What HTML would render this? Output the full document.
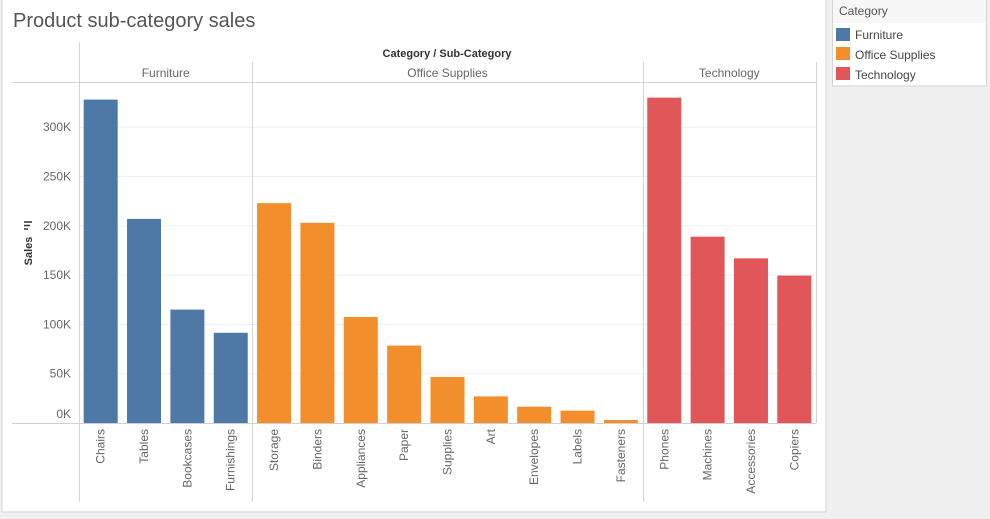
<!DOCTYPE html>
<html><head><meta charset="utf-8"><style>
body{margin:0;width:990px;height:519px;background:#f0f0f0;font-family:"Liberation Sans","DejaVu Sans",sans-serif;overflow:hidden}
svg{position:absolute;left:0;top:0}
</style></head><body>
<svg width="990" height="519" id="chart">
<rect x="2" y="-1" width="824" height="513" fill="#fff" stroke="#d4d4d4"/>
<text x="13" y="27" font-size="20" fill="#555">Product sub-category sales</text>
<g>
<rect x="832.5" y="-1" width="154" height="87" fill="#fff" stroke="#d4d4d4"/>
<rect x="833" y="0" width="153" height="23" fill="#f7f7f7"/>
<text x="839" y="15" font-size="12" fill="#555">Category</text>
<g><rect x="836" y="28" width="14" height="13" fill="#4e79a7"/><text x="855" y="39" font-size="12" fill="#444">Furniture</text></g>
<g><rect x="836" y="47" width="14" height="13" fill="#f28e2b"/><text x="855" y="59" font-size="12" fill="#444">Office Supplies</text></g>
<g><rect x="836" y="67" width="14" height="13" fill="#e15759"/><text x="855" y="79" font-size="12" fill="#444">Technology</text></g>
</g>
<g id="plot"></g>
</svg>
<script>
const categories=["Furniture","Office Supplies","Technology"];
const subcats=["Chairs","Tables","Bookcases","Furnishings","Storage","Binders","Appliances","Paper","Supplies","Art","Envelopes","Labels","Fasteners","Phones","Machines","Accessories","Copiers"];
const subcatCategory=[0,0,0,0,1,1,1,1,1,1,1,1,1,2,2,2,2];
const sales=[328,207,115,91.5,223,203,107.5,78.5,46.7,27,16.5,12.5,3,330,189,167,149.5];
const ticks=[0,50,100,150,200,250,300];
const colors=["#4e79a7","#f28e2b","#e15759"];
const NS="http://www.w3.org/2000/svg";
const g=document.getElementById('plot');
const x0=79,x1=816,base=423,pxPerK=49.3/50;
const colW=(x1-x0)/subcats.length;
function y(v){return base-v*pxPerK;}
function mk(t,a,parent){const e=document.createElementNS(NS,t);for(const k in a)e.setAttribute(k,a[k]);(parent||g).appendChild(e);return e;}
ticks.forEach(t=>{
  if(t>0){const l=mk('line',{x1:x0,x2:x1,y1:y(t),y2:y(t),stroke:'#efefef'});
  
  }
  const tx=mk('text',{x:71,y:(t===0?y(t)-5:y(t)+4),'font-size':12,fill:'#666','text-anchor':'end'});
  tx.textContent=t+'K';
  
  
});
const yt=mk('text',{x:0,y:0,'font-size':11,'font-weight':'bold',fill:'#333','text-anchor':'middle',transform:'translate(32,251) rotate(-90)'});
yt.textContent='Sales';


mk('path',{d:'M24 222h8M24 225.5h6M24 229h4',stroke:'#333','stroke-width':1.5});
const ht=mk('text',{x:447,y:57,'font-size':11,'font-weight':'bold',fill:'#333','text-anchor':'middle'});
ht.textContent='Category / Sub-Category';


mk('line',{x1:12,x2:816,y1:82.5,y2:82.5,stroke:'#d4d4d4'});
mk('line',{x1:12,x2:816,y1:423.5,y2:423.5,stroke:'#cfcfcf'});
mk('line',{x1:x0+.5,x2:x0+.5,y1:42,y2:502,stroke:'#d4d4d4'});
mk('line',{x1:x1+.5,x2:x1+.5,y1:62,y2:423,stroke:'#d4d4d4'});
categories.forEach((c,ci)=>{
  const idx=subcatCategory.map((v,i)=>v===ci?i:-1).filter(i=>i>=0);
  const a=x0+idx[0]*colW,b=x0+(idx[idx.length-1]+1)*colW;
  if(ci>0) mk('line',{x1:Math.round(a)+.5,x2:Math.round(a)+.5,y1:62,y2:502,stroke:'#d4d4d4'});
  const t=mk('text',{x:(a+b)/2,y:77,'font-size':12,fill:'#666','text-anchor':'middle'});
  t.textContent=c;
  
  
});
subcats.forEach((s,i)=>{
  const cx=x0+(i+.5)*colW;
  const r=mk('rect',{x:cx-17,y:y(sales[i]),width:34,height:base-y(sales[i]),fill:colors[subcatCategory[i]]});
  
  
  const t=mk('text',{x:0,y:0,'font-size':12,fill:'#666','text-anchor':'end',transform:`translate(${cx+4},429) rotate(-90)`});
  t.textContent=s;
  
  
});
</script>
</body></html>
